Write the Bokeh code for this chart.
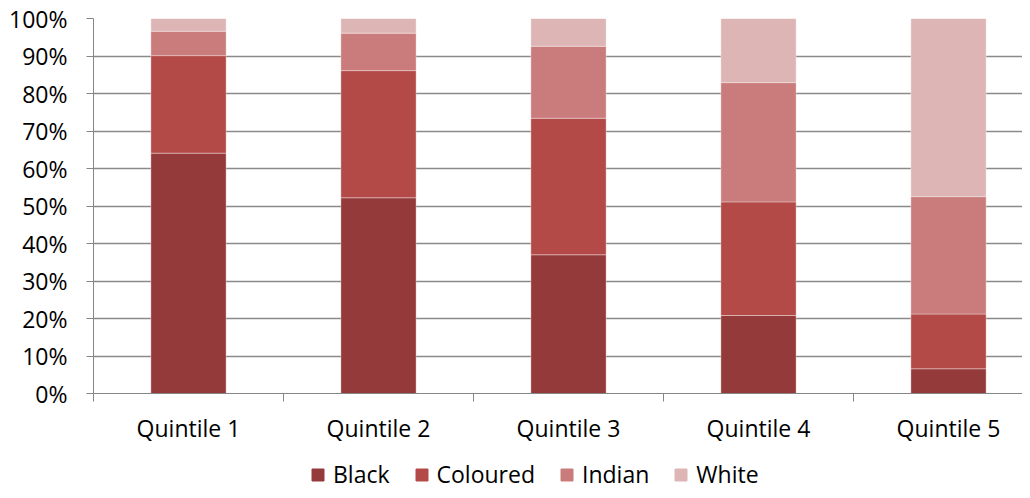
from bokeh.plotting import figure
from bokeh.layouts import column
from bokeh.models import FixedTicker, PrintfTickFormatter, Legend, LegendItem, Range1d, ColumnDataSource
from bokeh.embed import file_html
from bokeh.resources import INLINE

quintiles = ["Quintile 1", "Quintile 2", "Quintile 3", "Quintile 4", "Quintile 5"]
groups = ["Black", "Coloured", "Indian", "White"]
black = [64.1, 52.2, 37.0, 20.8, 6.6]
coloured = [26.0, 33.9, 36.4, 30.3, 14.6]
indian = [6.5, 10.0, 19.2, 31.8, 31.3]
white = [3.4, 3.9, 7.4, 17.1, 47.5]
y_ticks = [0, 10, 20, 30, 40, 50, 60, 70, 80, 90, 100]
colors = ["#953a3a", "#b34a48", "#c97c7b", "#deb5b5"]

FONT = "Open Sans"
FS = "23px"

xc = [i + 0.5 for i in range(len(quintiles))]
source = ColumnDataSource(dict(x=xc, Black=black, Coloured=coloured, Indian=indian, White=white))

p = figure(frame_width=929, frame_height=375, output_backend="svg", toolbar_location=None,
           x_range=Range1d(0, 929 / 190), y_range=Range1d(0, 100),
           min_border_left=93, min_border_right=0, min_border_top=18, min_border_bottom=57)
p.outline_line_color = None
p.background_fill_color = "white"
p.border_fill_color = "white"

renderers = p.vbar_stack(groups, x="x", width=0.396, source=source, color=colors,
                         line_color="white", line_alpha=0.35, line_width=1)

# axes
p.xaxis.ticker = FixedTicker(ticks=xc, minor_ticks=[0, 1, 2, 3, 4, 5])
p.xaxis.major_label_overrides = {v: q for v, q in zip(xc, quintiles)}
p.xaxis.major_tick_line_color = None
p.xaxis.minor_tick_out = 8
p.xaxis.minor_tick_in = 0
p.xaxis.minor_tick_line_color = "#868686"
p.xaxis.axis_line_color = "#868686"
p.xaxis.major_label_standoff = 10
p.xaxis.major_label_text_font = FONT
p.xaxis.major_label_text_font_size = FS
p.xaxis.major_label_text_color = "black"

p.yaxis.ticker = FixedTicker(ticks=y_ticks)
p.yaxis.formatter = PrintfTickFormatter(format="%d%%")
p.yaxis.major_tick_out = 7
p.yaxis.major_tick_in = 0
p.yaxis.minor_tick_line_color = None
p.yaxis.major_tick_line_color = "#868686"
p.yaxis.axis_line_color = "#868686"
p.yaxis.major_label_standoff = 19
p.yaxis.major_label_text_font = FONT
p.yaxis.major_label_text_font_size = FS
p.yaxis.major_label_text_color = "black"

p.xgrid.grid_line_color = None
p.ygrid.ticker = FixedTicker(ticks=y_ticks)
p.ygrid.grid_line_color = "#8a8a8a"
p.ygrid.grid_line_width = 1.5

# legend strip (separate figure so the legend is not clipped by the plot frame);
# its bars use the same data but lie outside this strip's y range, only the legend shows
lg = figure(width=1022, height=40, output_backend="svg", toolbar_location=None,
            x_range=Range1d(0, 1), y_range=Range1d(200, 201),
            x_axis_type=None, y_axis_type=None, min_border=0)
lg.outline_line_color = None
lg.xgrid.grid_line_color = None
lg.ygrid.grid_line_color = None
swatches = lg.vbar_stack(groups, x="x", width=0.396, source=source, color=colors)

legend = Legend(items=[LegendItem(label=g, renderers=[r]) for g, r in zip(groups, swatches)],
                orientation="horizontal", location=(217, 0),
                glyph_width=15, glyph_height=15, label_standoff=8, spacing=24,
                padding=0, margin=0, border_line_color=None, background_fill_alpha=0,
                label_text_font=FONT, label_text_font_size=FS, label_text_color="black",
                label_height=20)
lg.add_layout(legend, "center")

layout = column(p, lg, spacing=0)
open("out.html", "w").write(file_html(layout, INLINE))
